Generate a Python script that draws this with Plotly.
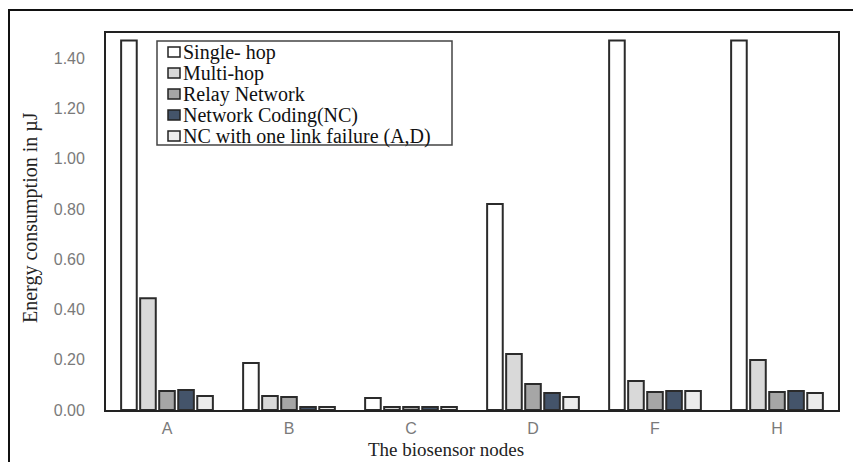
import plotly.graph_objects as go

nodes = ["A", "B", "C", "D", "F", "H"]
single_hop = [1.47, 0.187, 0.048, 0.82, 1.47, 1.47]
multi_hop = [0.445, 0.056, 0.012, 0.223, 0.115, 0.199]
relay = [0.076, 0.052, 0.012, 0.103, 0.072, 0.072]
nc = [0.080, 0.012, 0.012, 0.068, 0.076, 0.076]
nc_fail = [0.056, 0.012, 0.012, 0.052, 0.076, 0.068]

series_names = ["Single- hop", "Multi-hop", "Relay Network",
                "Network Coding(NC)", "NC with one link failure (A,D)"]
series_values = [single_hop, multi_hop, relay, nc, nc_fail]
series_colors = ["#ffffff", "#d9d9d9", "#a6a6a6", "#44546a", "#ececec"]

y_ticks = [0, 0.2, 0.4, 0.6, 0.8, 1.0, 1.2, 1.4]
y_tick_text = ["0.00", "0.20", "0.40", "0.60", "0.80", "1.00", "1.20", "1.40"]

serif = "Liberation Serif, Times New Roman, serif"
sans = "Liberation Sans, Arial, sans-serif"
outline = "#2b2b2b"

fig = go.Figure()
for name, vals, col in zip(series_names, series_values, series_colors):
    fig.add_trace(go.Bar(
        x=nodes, y=vals, name=name,
        marker=dict(color=col, line=dict(color=outline, width=2)),
    ))

# plot-area geometry in pixels (for placing the legend box in paper coords)
W, H = 853, 462
ML, MR, MT, MB = 106, 15, 33, 52
PW, PH = W - ML - MR, H - MT - MB


def px(xp):
    return (xp - ML) / PW


def py(yp):
    return (H - MB - yp) / PH


shapes = [
    # outer figure frame
    dict(type="rect", xref="paper", yref="paper",
         x0=px(9), y0=py(470), x1=px(870), y1=py(10),
         line=dict(color="#111111", width=2), layer="below"),
    # legend box
    dict(type="rect", xref="paper", yref="paper",
         x0=px(157), y0=py(145), x1=px(452), y1=py(41),
         line=dict(color="#444444", width=1.5), fillcolor="white", layer="above"),
]
annotations = [
    dict(text="Energy consumption in µJ", xref="paper", yref="paper",
         x=px(30), y=py(218), xanchor="center", yanchor="middle",
         textangle=-90, showarrow=False,
         font=dict(family=serif, size=20, color="#222222")),
    dict(text="The biosensor nodes", xref="paper", yref="paper",
         x=px(446), y=py(449), xanchor="center", yanchor="middle",
         showarrow=False, borderpad=0,
         font=dict(family=serif, size=19, color="#222222")),
]
row_y = [52, 73, 94, 115, 136]
for name, col, ry in zip(series_names, series_colors, row_y):
    shapes.append(dict(type="rect", xref="paper", yref="paper",
                       x0=px(168), x1=px(180), y0=py(ry + 5), y1=py(ry - 5),
                       line=dict(color="#222222", width=1.5), fillcolor=col,
                       layer="above"))
    annotations.append(dict(text=name, xref="paper", yref="paper",
                            x=px(182), y=py(ry), xanchor="left", yanchor="middle",
                            showarrow=False, borderpad=0,
                            font=dict(family=serif, size=20, color="#111111")))

fig.update_layout(
    width=W, height=H,
    margin=dict(l=ML, r=MR, t=MT, b=MB),
    paper_bgcolor="white", plot_bgcolor="white",
    barmode="group", bargap=0.22, bargroupgap=0.18,
    showlegend=False,
    xaxis=dict(
        showgrid=False, showline=True, linecolor="#222222", linewidth=1.8,
        mirror=True, ticks="", ticklabelstandoff=3,
        tickfont=dict(family=sans, size=16, color="#7a7a7a"),
    ),
    yaxis=dict(
        range=[0, 1.5], showgrid=False, zeroline=False,
        showline=True, linecolor="#222222", linewidth=1.8, mirror=True,
        tickvals=y_ticks, ticktext=y_tick_text, ticks="",
        ticklabelstandoff=16,
        tickfont=dict(family=sans, size=16, color="#7a7a7a"),
    ),
    annotations=annotations,
    shapes=shapes,
)

fig.write_html("out.html", config={"displayModeBar": False},
               post_script="document.body.style.margin='0';")
